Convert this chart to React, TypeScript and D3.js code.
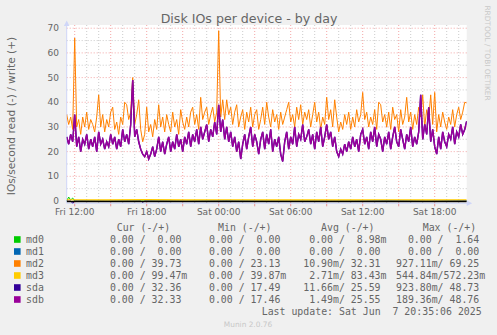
import React from 'react';
import * as d3 from 'd3';

// ---- time base: one reading every 10 minutes ----
const START = new Date(2025, 5, 6, 11, 20);
const END = new Date(2025, 5, 7, 20, 40);
const STEP_MIN = 10;

// ---- write IOs/s ----
const md2Write = [
  35, 31, 34, 29, 66, 30, 33, 27, 34, 30,
  36, 29, 33, 31, 28, 34, 43, 30, 35, 28,
  33, 30, 36, 38, 29, 32, 27, 34, 31, 40,
  39, 33, 36, 50, 31, 35, 41, 29, 24, 27,
  38, 28, 31, 26, 33, 29, 39, 30, 34, 28,
  35, 31, 28, 36, 30, 33, 27, 37, 32, 29,
  34, 30, 36, 38, 31, 35, 29, 42, 33, 36,
  38, 31, 35, 38, 32, 36, 69, 34, 41, 33,
  41, 35, 38, 31, 36, 39, 30, 34, 37, 29,
  36, 32, 38, 30, 35, 37, 29, 33, 38, 31,
  40, 34, 30, 37, 32, 35, 29, 36, 31, 34,
  37, 40, 32, 35, 30, 38, 33, 39, 31, 36,
  33, 37, 30, 35, 40, 32, 36, 29, 34, 31,
  42, 33, 37, 30, 41, 34, 28, 32, 29, 35,
  31, 36, 29, 34, 30, 37, 32, 35, 44, 33,
  36, 30, 34, 31, 37, 29, 40, 39, 32, 35,
  30, 36, 29, 38, 33, 35, 28, 37, 31, 34,
  42, 32, 36, 29, 35, 31, 38, 34, 43, 30,
  37, 33, 43, 31, 44, 28, 35, 30, 36, 32,
  29, 34, 31, 37, 30, 35, 38, 33, 36, 40,
  39.7,
];

const sdbWrite = [
  26, 23, 27, 24, 35, 22, 26, 20, 25, 23,
  27, 21, 25, 22, 26, 20, 28, 23, 25, 21,
  24, 22, 27, 23, 26, 21, 25, 22, 29, 24,
  27, 23, 31, 49, 26, 29, 24, 21, 19, 18,
  20, 17, 19, 22, 18, 21, 26, 20, 24, 19,
  23, 26, 20, 24, 21, 27, 22, 25, 20, 26,
  23, 28, 22, 27, 24, 29, 23, 30, 25, 28,
  31, 24, 29, 26, 32, 27, 39, 28, 33, 25,
  30, 24, 28, 22, 26, 20, 24, 17, 23, 27,
  21, 26, 30, 22, 27, 24, 19, 25, 28, 21,
  27, 23, 29, 20, 25, 22, 26, 19, 16, 24,
  28, 21, 26, 23, 30, 22, 27, 25, 31, 24,
  26, 29, 23, 27, 21, 28, 24, 30, 22, 26,
  31, 25, 28, 22, 26, 20, 18, 21, 19, 23,
  20, 24, 21, 26, 22, 25, 20, 27, 29, 23,
  26, 21, 28, 24, 30, 22, 27, 25, 20, 26,
  23, 28, 21, 26, 30, 24, 22, 29, 25, 21,
  27, 24, 30, 22, 26, 23, 28, 43, 25, 31,
  27, 38, 24, 29, 22, 19, 26, 21, 28, 24,
  22, 27, 25, 30, 23, 28, 26, 31, 27, 29,
  32.3,
];

// sda is the other mirror member: its line lies under sdb in the picture
const sdaWrite = sdbWrite;

// md3 write stays just above zero: [reading index, value]
const md3Write: [number, number][] = [
  [0, 0.1], [20, 0.08], [40, 0.12], [60, 0.06], [80, 0.1], [100, 0.08],
  [120, 0.09], [140, 0.07], [160, 0.1], [180, 0.08], [200, 0.1],
];
// md0 write: short spikes at the start, zero elsewhere
const md0Write: [number, number][] = [[0, 0], [1, 1.6], [2, 0.4], [3, 1.2], [4, 0], [200, 0]];
// sda read (drawn negative): small dips
const sdaRead: [number, number][] = [[0, 0], [2, 0], [3, -0.9], [4, 0], [37, 0], [38, -0.5], [39, 0], [200, 0]];

const yTicks = [0, 10, 20, 30, 40, 50, 60, 70];

// ---- legend ----
const legendNames = ['md0', 'md1', 'md2', 'md3', 'sda', 'sdb'];
const legendColors = ['#00CC00', '#0066B3', '#FF8000', '#FFCC00', '#330099', '#990099'];
const legendHeaders = ['Cur (-/+)', 'Min (-/+)', 'Avg (-/+)', 'Max (-/+)'];
const curCol = ['  0.00 /  0.00 ', '  0.00 /  0.00 ', '  0.00 / 39.73 ', '  0.00 / 99.47m', '  0.00 / 32.36 ', '  0.00 / 32.33 '];
const minCol = ['  0.00 /  0.00 ', '  0.00 /  0.00 ', '  0.00 / 23.13 ', '  0.00 / 39.87m', '  0.00 / 17.49 ', '  0.00 / 17.46 '];
const avgCol = ['  0.00 /  8.98m', '  0.00 /  0.00 ', ' 10.90m/ 32.31 ', '  2.71m/ 83.43m', ' 11.66m/ 25.59 ', '  1.49m/ 25.55 '];
const maxCol = ['  0.00 /  1.64 ', '  0.00 /  0.00 ', '927.11m/ 69.25 ', '544.84m/572.23m', '923.80m/ 48.73 ', '189.36m/ 48.76 '];
const lastUpdate = 'Last update: Sat Jun  7 20:35:06 2025';

const W = 497;
const H = 335;
const L = 66.7;
const R = 466.7;
const T = 25;
const B = 203.3;

const SANS = "'DejaVu Sans', Verdana, sans-serif";
const MONO = "'DejaVu Sans Mono', monospace";

export default function App() {
  const x = d3.scaleTime().domain([START, END]).range([L, R]);
  const y = d3.scaleLinear().domain([-0.93, 71.3]).range([B, T]);
  const t = (i: number) => new Date(START.getTime() + i * STEP_MIN * 60000);

  const line = d3
    .line<number>()
    .x((_, i) => x(t(i)))
    .y((d) => y(d));
  const sparse = d3
    .line<[number, number]>()
    .x((d) => x(t(d[0])))
    .y((d) => y(d[1]));

  const hours = x.ticks(d3.timeHour.every(1)!);
  const fmt = d3.timeFormat('%a %H:%M');
  const labelTicks = hours.filter((d) => d.getHours() % 6 === 0);
  const minorY = d3.range(5, 71, 10);

  const colStarts = [98.1, 197.1, 297.3, 396];
  const headerX = [116.7, 218, 321, 422.7];
  const rowY = [239.5, 251.5, 263.5, 275.5, 287.5, 299.5];
  const cols = [curCol, minCol, avgCol, maxCol];

  return (
    <svg
      width={W}
      height={H}
      style={{ position: 'absolute', left: 0, top: 0, background: '#F0F0F0' }}
      xmlSpace="preserve"
    >
      <rect x={0} y={0} width={W} height={H} fill="#F0F0F0" />
      <defs>
        <clipPath id="cv">
          <rect x={L} y={T} width={R - L} height={B - T + 1} />
        </clipPath>
      </defs>
      {/* canvas */}
      <rect x={L} y={T} width={R - L} height={B - T} fill="#FFFFFF" />

      {/* minor grid */}
      {hours
        .filter((d) => d.getHours() % 3 !== 0)
        .map((d, i) => (
          <line key={'vh' + i} x1={x(d)} x2={x(d)} y1={T} y2={B} stroke="rgba(140,140,140,0.45)" strokeDasharray="1,2" strokeWidth={1} />
        ))}
      {minorY.map((v) => (
        <line key={'mh' + v} x1={L} x2={R} y1={y(v)} y2={y(v)} stroke="rgba(140,140,140,0.45)" strokeDasharray="1,2" strokeWidth={1} />
      ))}
      {/* major grid */}
      {hours
        .filter((d) => d.getHours() % 3 === 0)
        .map((d, i) => (
          <g key={'vm' + i}>
            <line x1={x(d)} x2={x(d)} y1={T} y2={B} stroke="rgba(230,60,60,0.45)" strokeDasharray="1,2" strokeWidth={1} />
            <line x1={x(d)} x2={x(d)} y1={B} y2={B + 3} stroke="rgba(230,60,60,0.5)" strokeWidth={1} />
          </g>
        ))}
      {yTicks.map((v) => (
        <line key={'ym' + v} x1={L} x2={R} y1={y(v)} y2={y(v)} stroke="rgba(230,60,60,0.45)" strokeDasharray="1,2" strokeWidth={1} />
      ))}

      {/* axes */}
      <line x1={L} x2={L} y1={B} y2={22} stroke="#CFD6F8" strokeWidth={1} />
      <path d={`M${L - 2.8},26 L${L},20.5 L${L + 2.8},26 Z`} fill="#CFD6F8" />
      <line x1={L} x2={R + 2} y1={B} y2={B} stroke="#CFD6F8" strokeWidth={1} />
      <path d={`M${R},${B - 2.8} L${R + 5.5},${B} L${R},${B + 2.8} Z`} fill="#CFD6F8" />

      {/* data */}
      <g clipPath="url(#cv)" fill="none">
        <path d={sparse(md0Write) || ''} stroke="#00CC00" strokeWidth={1} />
        <path d={line(md2Write) || ''} stroke="#FF8000" strokeWidth={1} />
        <path d={sparse(sdaRead) || ''} stroke="#330099" strokeWidth={1} />
        <path d={line(sdaWrite) || ''} stroke="#330099" strokeWidth={1.4} />
        <path d={line(sdbWrite) || ''} stroke="#990099" strokeWidth={1.4} />
        <line x1={L} x2={R} y1={y(0) + 0.6} y2={y(0) + 0.6} stroke="#000000" strokeWidth={1.5} />
        <path d={sparse(md3Write) || ''} stroke="#FFCC00" strokeWidth={1.2} transform="translate(0,-1)" />
      </g>

      {/* y tick labels */}
      {yTicks.map((v) => (
        <text key={'yl' + v} x={59} y={y(v)} dy="0.35em" textAnchor="end" fontFamily={SANS} fontSize={9} fill="#666666">
          {v}
        </text>
      ))}
      {/* x tick labels */}
      {labelTicks.map((d, i) => (
        <text key={'xl' + i} x={x(d)} y={215} textAnchor="middle" fontFamily={SANS} fontSize={9} fill="#666666">
          {fmt(d)}
        </text>
      ))}

      {/* titles */}
      <text x={249} y={23} textAnchor="middle" fontFamily={SANS} fontSize={12.6} fill="#666666">
        Disk IOs per device - by day
      </text>
      <text
        transform="translate(11,116) rotate(-90)"
        textAnchor="middle"
        dominantBaseline="central"
        fontFamily={SANS}
        fontSize={10.6}
        fill="#666666"
      >
        IOs/second read (-) / write (+)
      </text>
      <text
        transform="translate(487,53) rotate(90)"
        textAnchor="middle"
        dominantBaseline="central"
        fontFamily={SANS}
        fontSize={7.4}
        fill="#C8C8C8"
      >
        RRDTOOL / TOBI OETIKER
      </text>

      {/* legend */}
      {legendHeaders.map((h, i) => (
        <text key={'h' + i} x={headerX[i]} y={227.7} dy="0.35em" fontFamily={MONO} fontSize={9.9} fill="#666666" style={{ whiteSpace: 'pre' }}>
          {h}
        </text>
      ))}
      {legendNames.map((n, r) => (
        <g key={'row' + n}>
          <rect x={14} y={rowY[r] - 3.3} width={6.6} height={6.6} fill={legendColors[r]} />
          <text x={26} y={rowY[r]} dy="0.35em" fontFamily={MONO} fontSize={9.9} fill="#666666">
            {n}
          </text>
          {cols.map((c, ci) => (
            <text key={ci} x={colStarts[ci]} y={rowY[r]} dy="0.35em" fontFamily={MONO} fontSize={9.9} fill="#666666" style={{ whiteSpace: 'pre' }}>
              {c[r]}
            </text>
          ))}
        </g>
      ))}
      <text x={261.7} y={311.7} dy="0.35em" fontFamily={MONO} fontSize={9.9} fill="#666666" style={{ whiteSpace: 'pre' }}>
        {lastUpdate}
      </text>
      <text x={248} y={324} dy="0.35em" textAnchor="middle" fontFamily={SANS} fontSize={7.4} fill="#C8C8C8">
        Munin 2.0.76
      </text>
    </svg>
  );
}
